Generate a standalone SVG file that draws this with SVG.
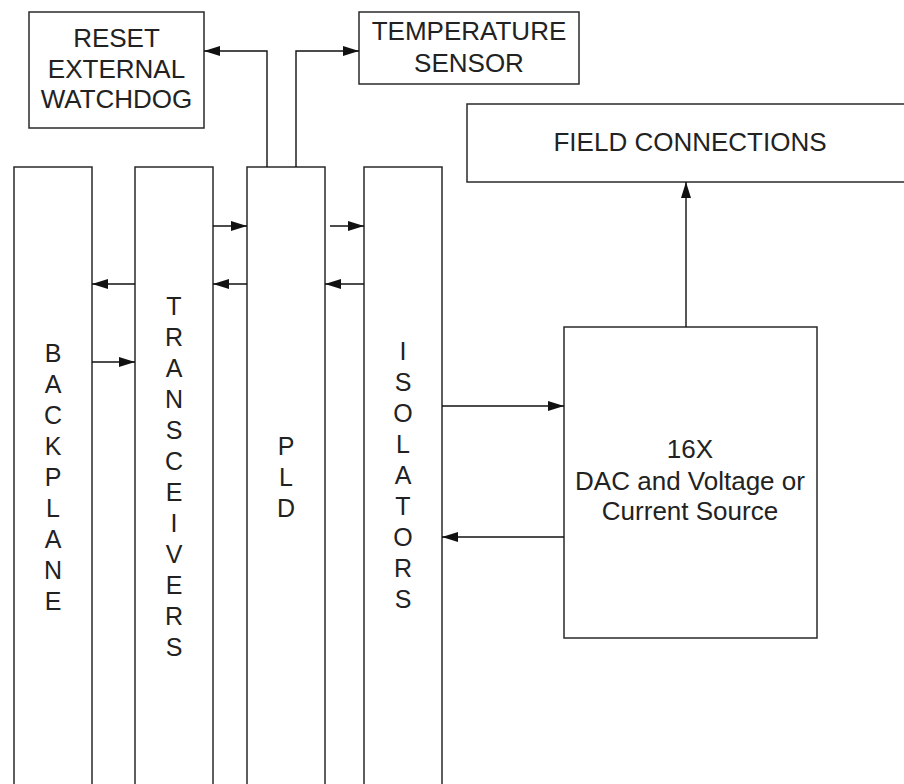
<svg xmlns="http://www.w3.org/2000/svg" width="904" height="784" viewBox="0 0 904 784">
<style>
.box{fill:#fff;stroke:#2a2a2a;stroke-width:1.5}
.ln{fill:none;stroke:#111;stroke-width:1.4;marker-end:url(#ah)}
text{font-family:"Liberation Sans",Arial,sans-serif;font-size:25px;fill:#222;text-anchor:middle}
.h{font-size:26px}
</style>
<defs>
<marker id="ah" viewBox="0 0 16 10" refX="16" refY="5" markerWidth="16" markerHeight="10" markerUnits="userSpaceOnUse" orient="auto"><path d="M0,0 L16,5 L0,10 z" fill="#111"/></marker>
</defs>
<rect width="904" height="784" fill="#fff"/>
<g id="reset">
<rect class="box" x="29" y="12" width="175" height="116"/>
<text class="h" x="116.5" y="47">RESET</text>
<text class="h" x="116.5" y="77.5">EXTERNAL</text>
<text class="h" x="116.5" y="108">WATCHDOG</text>
</g>
<g id="temp">
<rect class="box" x="359" y="12" width="220" height="72"/>
<text class="h" x="469" y="40">TEMPERATURE</text>
<text class="h" x="469" y="71.5">SENSOR</text>
</g>
<g id="field">
<rect class="box" x="467" y="104" width="460" height="78"/>
<text class="h" x="690" y="151">FIELD CONNECTIONS</text>
</g>
<g id="backplane">
<rect class="box" x="14" y="167" width="78" height="640"/>
<text><tspan x="53" y="362">B</tspan><tspan x="53" dy="31">A</tspan><tspan x="53" dy="31">C</tspan><tspan x="53" dy="31">K</tspan><tspan x="53" dy="31">P</tspan><tspan x="53" dy="31">L</tspan><tspan x="53" dy="31">A</tspan><tspan x="53" dy="31">N</tspan><tspan x="53" dy="31">E</tspan></text>
</g>
<g id="transceivers">
<rect class="box" x="135" y="167" width="78" height="640"/>
<text><tspan x="174" y="315">T</tspan><tspan x="174" dy="31">R</tspan><tspan x="174" dy="31">A</tspan><tspan x="174" dy="31">N</tspan><tspan x="174" dy="31">S</tspan><tspan x="174" dy="31">C</tspan><tspan x="174" dy="31">E</tspan><tspan x="174" dy="31">I</tspan><tspan x="174" dy="31">V</tspan><tspan x="174" dy="31">E</tspan><tspan x="174" dy="31">R</tspan><tspan x="174" dy="31">S</tspan></text>
</g>
<g id="pld">
<rect class="box" x="247" y="167" width="78" height="640"/>
<text><tspan x="286" y="455">P</tspan><tspan x="286" dy="31">L</tspan><tspan x="286" dy="31">D</tspan></text>
</g>
<g id="isolators">
<rect class="box" x="364" y="167" width="78" height="640"/>
<text><tspan x="403" y="360">I</tspan><tspan x="403" dy="31">S</tspan><tspan x="403" dy="31">O</tspan><tspan x="403" dy="31">L</tspan><tspan x="403" dy="31">A</tspan><tspan x="403" dy="31">T</tspan><tspan x="403" dy="31">O</tspan><tspan x="403" dy="31">R</tspan><tspan x="403" dy="31">S</tspan></text>
</g>
<g id="dac">
<rect class="box" x="564" y="327" width="253" height="311"/>
<text class="h" x="690" y="458">16X</text>
<text class="h" x="690" y="490">DAC and Voltage or</text>
<text class="h" x="690" y="520">Current Source</text>
</g>
<g id="connectors">
<path class="ln" d="M267,167 V51 H204"/>
<path class="ln" d="M296,167 V51 H359"/>
<path class="ln" d="M213,226 H247"/>
<path class="ln" d="M330,226 H364"/>
<path class="ln" d="M135,284 H92"/>
<path class="ln" d="M247,284 H213"/>
<path class="ln" d="M364,284 H325"/>
<path class="ln" d="M92,362 H135"/>
<path class="ln" d="M442,406 H564"/>
<path class="ln" d="M564,537 H442"/>
<path class="ln" d="M686,327 V182"/>
</g>
</svg>
